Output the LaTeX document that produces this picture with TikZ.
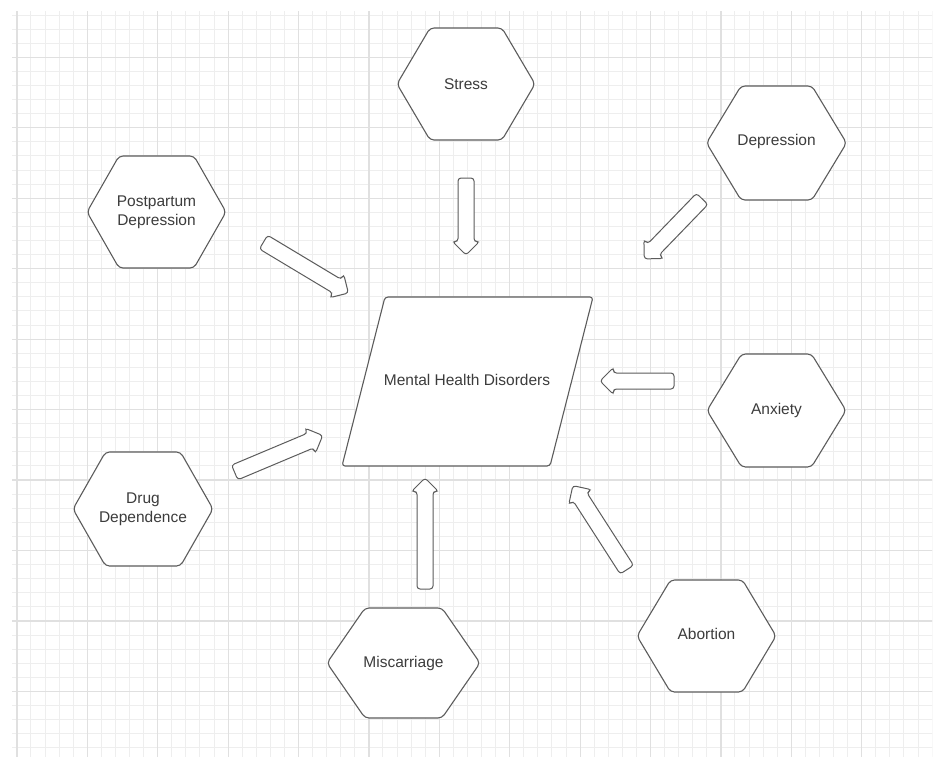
\documentclass[tikz,border=0pt]{standalone}
\usepackage{fontspec}
\setmainfont{Liberation Sans}
\usetikzlibrary{shapes.arrows,calc}
\definecolor{gridminor}{HTML}{EEEEEE}
\definecolor{gridmajor}{HTML}{E0E0E0}
\definecolor{edgegray}{HTML}{5C5C5C}
\definecolor{txtgray}{HTML}{3C3C3C}
\tikzset{
  hexline/.style={draw=edgegray, fill=white, line width=1.1pt, rounded corners=4pt, line join=round},
  hextext/.style={text=txtgray, font=\fontsize{15.5}{19}\selectfont, align=center, inner sep=0pt},
  blockarrow/.style={shape=single arrow, draw=edgegray, fill=white, line width=1pt,
    rounded corners=3pt, inner sep=0pt, text height=7.5pt, text depth=7.5pt,
    single arrow head extend=5.5pt, single arrow tip angle=90, sloped, allow upside down},
  minorline/.style={draw=gridminor, line width=1pt},
  majorline/.style={draw=gridmajor, line width=1.2pt},
}
% #1 x, #2 y, #3 half width, #4 half height, #5 half top edge
\newcommand\hexat[5]{%
  \draw[hexline] (#1-#3,#2) -- (#1-#5,#2-#4) -- (#1+#5,#2-#4) -- (#1+#3,#2)
    -- (#1+#5,#2+#4) -- (#1-#5,#2+#4) -- cycle;}
\begin{document}
\begin{tikzpicture}[x=1pt,y=-1pt]
\useasboundingbox (0,0) rectangle (934,756);
\fill[white] (0,0) rectangle (934,756);
% grid
\begin{scope}
  \clip (12,11) rectangle (932,756);
  \foreach \k in {-5,...,62} {
    \draw[minorline] ({87.3+14.08*\k},0) -- ({87.3+14.08*\k},760);
    \draw[minorline] (0,{57.3+14.09*\k}) -- (934,{57.3+14.09*\k});
  }
  \foreach \k in {-1,...,12} {
    \draw[majorline] ({87.3+70.4*\k},0) -- ({87.3+70.4*\k},760);
    \draw[majorline] (0,{57.3+70.45*\k}) -- (934,{57.3+70.45*\k});
  }
\end{scope}
% central parallelogram
\draw[hexline, rounded corners=3pt] (385,297) -- (593,297) -- (550,466) -- (342,466) -- cycle;
\node[hextext] (mhd) at (467,380) {Mental Health Disorders};
% hexagons
\hexat{466}{84}{69}{56}{36}
\node[hextext] (stress) at (466,84) {Stress};
\hexat{776.5}{143}{70}{57}{35.5}
\node[hextext] (depr) at (776.5,141) {Depression};
\hexat{156.5}{212}{69.5}{56}{37.5}
\node[hextext] (ppd) at (156.5,212) {Postpartum\\Depression};
\hexat{776.5}{410.5}{69.5}{56.5}{35}
\node[hextext] (anx) at (776.5,410) {Anxiety};
\hexat{143}{509}{70}{57}{37.5}
\node[hextext] (drug) at (143,509) {Drug\\Dependence};
\hexat{403.5}{663}{76.5}{55}{38.5}
\node[hextext] (misc) at (403.5,663) {Miscarriage};
\hexat{706.5}{636}{69.5}{56}{36}
\node[hextext] (abort) at (706.5,634) {Abortion};
% block arrows
\coordinate (a1s) at (466,174); \coordinate (a1e) at (466,251);
\coordinate (a2s) at (705,196); \coordinate (a2e) at (647,256);
\coordinate (a3s) at (678,381); \coordinate (a3e) at (604,381);
\coordinate (a4s) at (629,573); \coordinate (a4e) at (575,489);
\coordinate (a5s) at (425,593); \coordinate (a5e) at (425,482);
\coordinate (a6s) at (231,474); \coordinate (a6e) at (319,437);
\coordinate (a7s) at (260,240); \coordinate (a7e) at (345,291);
\path (a1s) -- node[blockarrow, minimum height=77pt] (arr1) {} (a1e);
\path (a2s) -- node[blockarrow, minimum height=83.4pt] (arr2) {} (a2e);
\path (a3s) -- node[blockarrow, minimum height=74pt] (arr3) {} (a3e);
\path (a4s) -- node[blockarrow, minimum height=99.9pt] (arr4) {} (a4e);
\path (a5s) -- node[blockarrow, minimum height=111pt] (arr5) {} (a5e);
\path (a6s) -- node[blockarrow, minimum height=95.5pt] (arr6) {} (a6e);
\path (a7s) -- node[blockarrow, minimum height=99pt] (arr7) {} (a7e);
\end{tikzpicture}
\end{document}
